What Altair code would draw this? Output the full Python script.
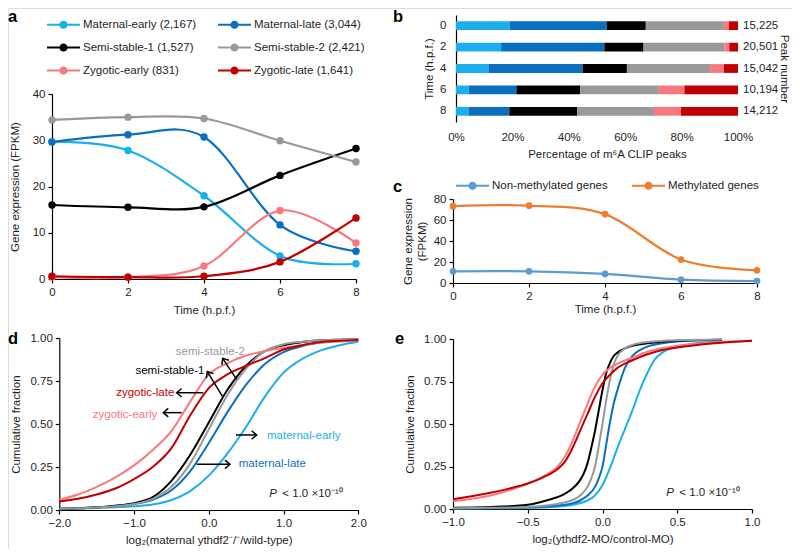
import math
import altair as alt
import pandas as pd

FONT = "Liberation Sans"
TXT = "#1e1e1e"
W, H = 784, 541

# ---------------- data ----------------
time_points = [0, 2, 4, 6, 8]
categories = ["Maternal-early", "Maternal-late", "Semi-stable-1",
              "Semi-stable-2", "Zygotic-early", "Zygotic-late"]
gene_counts = [2167, 3044, 1527, 2421, 831, 1641]
cat_colors = ["#1AAFEC", "#0A6FBF", "#000000", "#999999", "#F8797C", "#C00000"]

# panel a: gene expression (FPKM)
a_maternal_early = [29.7, 27.8, 18.0, 5.0, 3.3]
a_maternal_late = [29.6, 31.2, 30.7, 11.7, 6.0]
a_semi_stable_1 = [16.0, 15.5, 15.6, 22.4, 28.2]
a_semi_stable_2 = [34.4, 35.0, 34.7, 29.9, 25.3]
a_zygotic_early = [0.4, 0.4, 2.8, 14.8, 7.8]
a_zygotic_late = [0.6, 0.4, 0.6, 3.7, 13.2]

# panel b: percentage of m6A CLIP peaks
peak_times = ["0", "2", "4", "6", "8"]
peak_numbers = [15225, 20501, 15042, 10194, 14212]
b_maternal_early = [19.1, 16.0, 11.5, 4.5, 4.5]
b_maternal_late = [34.3, 36.6, 33.4, 16.9, 14.4]
b_semi_stable_1 = [13.9, 13.9, 15.7, 22.6, 24.1]
b_semi_stable_2 = [27.7, 28.7, 29.5, 27.9, 27.2]
b_zygotic_early = [1.8, 1.7, 4.9, 9.1, 9.6]
b_zygotic_late = [3.2, 3.1, 5.0, 19.0, 20.2]

# panel c
c_groups = ["Non-methylated genes", "Methylated genes"]
c_keys = ["non-methylated", "methylated"]
c_colors = ["#5B9BD5", "#ED7D31"]
c_nonmethylated = [11.1, 11.1, 8.6, 3.2, 1.9]
c_methylated = [73.2, 73.6, 65.6, 22.3, 12.1]

# panel d: cumulative fraction vs log2(maternal ythdf2-/-/wild-type)
d_x = [-2.0, -1.75, -1.5, -1.25, -1.0, -0.75, -0.5, -0.25, 0.0,
       0.25, 0.5, 0.75, 1.0, 1.25, 1.5, 1.75, 2.0]
d_maternal_early = [0.005, 0.008, 0.012, 0.016, 0.022, 0.032, 0.058, 0.11, 0.20,
                    0.33, 0.485, 0.66, 0.80, 0.88, 0.93, 0.96, 0.98]
d_maternal_late = [0.008, 0.010, 0.015, 0.022, 0.035, 0.06, 0.115, 0.225, 0.39,
                   0.57, 0.73, 0.85, 0.92, 0.955, 0.975, 0.985, 0.99]
d_semi_stable_1 = [0.008, 0.010, 0.016, 0.025, 0.04, 0.075, 0.17, 0.32, 0.51,
                   0.70, 0.84, 0.925, 0.96, 0.978, 0.988, 0.992, 0.995]
d_semi_stable_2 = [0.008, 0.010, 0.015, 0.022, 0.035, 0.065, 0.135, 0.27, 0.47,
                   0.67, 0.825, 0.925, 0.965, 0.98, 0.988, 0.992, 0.995]
d_zygotic_early = [0.06, 0.09, 0.135, 0.19, 0.26, 0.35, 0.46, 0.63, 0.79,
                   0.855, 0.90, 0.925, 0.945, 0.96, 0.975, 0.982, 0.988]
d_zygotic_late = [0.05, 0.065, 0.09, 0.125, 0.18, 0.25, 0.36, 0.55, 0.71,
                  0.79, 0.84, 0.885, 0.935, 0.96, 0.978, 0.985, 0.99]

# panel e: cumulative fraction vs log2(ythdf2-MO/control-MO)
e_x_maternal_early = [-1, -0.75, -0.5, -0.25, -0.1, -0.05, 0, 0.05, 0.1, 0.15, 0.2,
                      0.25, 0.3, 0.35, 0.4, 0.5, 0.6, 0.8]
e_maternal_early = [0.003, 0.004, 0.006, 0.018, 0.05, 0.08, 0.14, 0.24, 0.36, 0.47, 0.58,
                    0.70, 0.80, 0.88, 0.92, 0.955, 0.972, 0.99]
e_x_maternal_late = [-1, -0.75, -0.5, -0.25, -0.15, -0.1, -0.05, -0.025, 0, 0.025, 0.05,
                     0.075, 0.1, 0.125, 0.15, 0.2, 0.25, 0.3, 0.4, 0.5, 0.8]
e_maternal_late = [0.004, 0.006, 0.01, 0.025, 0.05, 0.08, 0.13, 0.18, 0.25, 0.38, 0.51,
                   0.62, 0.70, 0.77, 0.83, 0.90, 0.935, 0.955, 0.975, 0.985, 0.995]
e_x_semi_stable_1 = [-1, -0.75, -0.5, -0.375, -0.25, -0.2, -0.15, -0.125, -0.1, -0.075, -0.05,
                     -0.025, 0, 0.025, 0.05, 0.075, 0.1, 0.15, 0.2, 0.3, 0.5, 0.8]
e_semi_stable_1 = [0.008, 0.012, 0.025, 0.05, 0.09, 0.12, 0.17, 0.21, 0.27, 0.36, 0.46,
                   0.58, 0.70, 0.80, 0.86, 0.90, 0.92, 0.945, 0.96, 0.975, 0.99, 0.995]
e_x_semi_stable_2 = [-1, -0.75, -0.5, -0.25, -0.15, -0.1, -0.075, -0.05, -0.025, 0, 0.025,
                     0.05, 0.075, 0.1, 0.15, 0.2, 0.3, 0.5, 0.8]
e_semi_stable_2 = [0.005, 0.007, 0.012, 0.04, 0.08, 0.13, 0.18, 0.25, 0.37, 0.50, 0.64,
                   0.76, 0.85, 0.90, 0.945, 0.965, 0.982, 0.993, 0.997]
e_x_zygotic_early = [-1, -0.875, -0.75, -0.625, -0.5, -0.4, -0.3, -0.25, -0.2, -0.15, -0.1,
                     -0.05, 0, 0.05, 0.1, 0.2, 0.3, 0.5, 0.75, 1.0]
e_zygotic_early = [0.045, 0.06, 0.08, 0.11, 0.15, 0.19, 0.25, 0.31, 0.40, 0.51, 0.62,
                   0.72, 0.79, 0.83, 0.855, 0.89, 0.925, 0.96, 0.98, 0.99]
e_x_zygotic_late = [-1, -0.875, -0.75, -0.625, -0.5, -0.4, -0.3, -0.25, -0.2, -0.15, -0.1,
                    -0.05, 0, 0.05, 0.1, 0.2, 0.3, 0.4, 0.5, 0.75, 1.0]
e_zygotic_late = [0.058, 0.075, 0.095, 0.12, 0.15, 0.185, 0.235, 0.28, 0.36, 0.46, 0.56,
                  0.66, 0.74, 0.79, 0.83, 0.875, 0.91, 0.935, 0.95, 0.975, 0.99]

# panel d annotations (data coordinates)
d_label_text = ["semi-stable-2", "semi-stable-1", "zygotic-late",
                "zygotic-early", "maternal-early", "maternal-late"]
d_label_cat = ["Semi-stable-2", "Semi-stable-1", "Zygotic-late",
               "Zygotic-early", "Maternal-early", "Maternal-late"]
d_label_x = [0.02, -0.52, -0.85, -1.12, 1.27, 0.85]
d_label_v = [0.92, 0.81, 0.683, 0.553, 0.433, 0.268]
arrow_tail_x = [0.372, 0.185, -0.074, -0.363, 0.363, -0.163]
arrow_tail_v = [0.761, 0.66, 0.683, 0.567, 0.437, 0.266]
arrow_head_x = [0.185, -0.02, -0.43, -0.609, 0.64, 0.283]
arrow_head_v = [0.883, 0.806, 0.683, 0.567, 0.437, 0.266]
p_text_d = (0.81, 0.093)
p_text_e = (0.427, 0.094)

# ---------------- layout (chart pixel coordinates) ----------------
A_X, A_Y = [44, 348], [271, 86]
B_X, B_Y = [448, 730], [7, 114]
C_X, C_Y = [445, 749], [275, 191]
D_X, D_Y = [51.3, 350.3], [502, 330.3]
E_X, E_Y = [445, 744], [501, 331]

LEG_SYM = ("M-2.75,-0.18L2.75,-0.18L2.75,0.18L-2.75,0.18Z "
           "M0.68,0A0.68,0.68 0 1,1 -0.68,0A0.68,0.68 0 1,1 0.68,0Z")
CHEVRON = "M-1,-0.85L0,0L-1,0.85"


def axis(**kw):
    base = dict(grid=False, domainColor="#000000", domainWidth=1.2, tickColor="#000000",
                tickWidth=1.2, tickSize=4, labelFont=FONT, labelFontSize=11.5,
                labelColor=TXT, labelPadding=3, labelFlush=False, labelOverlap=False,
                titleFont=FONT, titleFontSize=11.5, titleColor=TXT, titleFontWeight="normal")
    base.update(kw)
    return alt.Axis(**base)


def legend(x, y, colpad):
    return alt.Legend(orient="none", legendX=x, legendY=y, columns=2, direction="horizontal",
                      title=None, symbolType=LEG_SYM, symbolSize=144, symbolStrokeWidth=0,
                      symbolOpacity=1, labelFont=FONT, labelFontSize=11.5, labelColor=TXT,
                      labelOffset=13.5, columnPadding=colpad, rowPadding=11, padding=0)


# ---------------- panel a ----------------
a_labels = [f"{c} ({n:,})" for c, n in zip(categories, gene_counts)]
a_series = [a_maternal_early, a_maternal_late, a_semi_stable_1,
            a_semi_stable_2, a_zygotic_early, a_zygotic_late]
df_a = pd.DataFrame([{"t": t, "cat": c, "series": lab, "v": v}
                     for c, lab, vals in zip(categories, a_labels, a_series)
                     for t, v in zip(time_points, vals)])
xa = alt.X("t:Q", scale=alt.Scale(domain=[0, 8], range=A_X, nice=False, zero=False),
           axis=axis(orient="bottom", offset=A_Y[0] - H, values=time_points,
                     title="Time (h.p.f.)", titlePadding=7))
ya = alt.Y("v:Q", scale=alt.Scale(domain=[0, 40], range=A_Y, nice=False),
           axis=axis(orient="left", offset=-A_X[0], values=[0, 10, 20, 30, 40],
                     title="Gene expression (FPKM)", titlePadding=12))
lines_a = alt.Chart(df_a).mark_line(interpolate="cardinal", strokeWidth=2.2).encode(
    x=xa, y=ya,
    stroke=alt.Stroke("cat:N", scale=alt.Scale(domain=categories, range=cat_colors), legend=None))
pts_a = alt.Chart(df_a).mark_point(filled=True, size=55, opacity=1).encode(
    x=xa, y=ya,
    color=alt.Color("series:N", scale=alt.Scale(domain=a_labels, range=cat_colors),
                    legend=legend(49.5, 10.5, 21)))
panel_a = alt.layer(lines_a, pts_a)

# ---------------- panel b ----------------
b_series = [b_maternal_early, b_maternal_late, b_semi_stable_1,
            b_semi_stable_2, b_zygotic_early, b_zygotic_late]
df_b = pd.DataFrame([{"time": t, "cat": c, "pct": v, "ord": k}
                     for k, (c, vals) in enumerate(zip(categories, b_series))
                     for t, v in zip(peak_times, vals)])
xb_scale = alt.Scale(domain=[0, 100], range=B_X, nice=False, zero=True)
yb_scale = alt.Scale(domain=peak_times, range=B_Y, paddingInner=0.59, paddingOuter=0.295)
bars = alt.Chart(df_b).mark_bar(strokeWidth=0).encode(
    x=alt.X("pct:Q", stack="zero", scale=xb_scale,
            axis=axis(orient="bottom", offset=B_Y[1] - H, values=[0, 20, 40, 60, 80, 100],
                      labelExpr="datum.value + '%'", domain=False, ticks=False, tickSize=0,
                      labelPadding=9, title="Percentage of m⁶A CLIP peaks", titlePadding=6,
                      titleX=599)),
    y=alt.Y("time:N", scale=yb_scale, sort=peak_times,
            axis=axis(orient="left", offset=-B_X[0], ticks=False, tickSize=0, labelPadding=10,
                      labelAngle=0, title="Time (h.p.f.)", titlePadding=5)),
    color=alt.Color("cat:N", scale=alt.Scale(domain=categories, range=cat_colors), legend=None),
    order=alt.Order("ord:Q"),
)
df_bn = pd.DataFrame({"time": peak_times, "label": [f"{n:,}" for n in peak_numbers],
                      "end": [100] * len(peak_times)})
bn = alt.Chart(df_bn).mark_text(align="left", baseline="middle", dx=5, font=FONT,
                                fontSize=11.5, color=TXT).encode(
    x=alt.X("end:Q", scale=xb_scale),
    y=alt.Y("time:N", scale=yb_scale, sort=peak_times,
            axis=axis(orient="right", offset=-14, labels=False, ticks=False, domain=False,
                      title="Peak number", titlePadding=0)),
    text="label:N")
panel_b = alt.layer(bars, bn).resolve_axis(y="independent")

# ---------------- panel c ----------------
df_c = pd.DataFrame([{"t": t, "key": k, "group": g, "v": v}
                     for k, g, vals in zip(c_keys, c_groups, [c_nonmethylated, c_methylated])
                     for t, v in zip(time_points, vals)])
xc = alt.X("t:Q", scale=alt.Scale(domain=[0, 8], range=C_X, nice=False, zero=False),
           axis=axis(orient="bottom", offset=C_Y[0] - H, values=time_points,
                     title="Time (h.p.f.)", titlePadding=2))
yc = alt.Y("v:Q", scale=alt.Scale(domain=[0, 80], range=C_Y, nice=False),
           axis=axis(orient="left", offset=-C_X[0], values=[0, 20, 40, 60, 80],
                     title=["Gene expression", "(FPKM)"], titlePadding=6))
lines_c = alt.Chart(df_c).mark_line(interpolate="cardinal", strokeWidth=2.2).encode(
    x=xc, y=yc,
    stroke=alt.Stroke("key:N", scale=alt.Scale(domain=c_keys, range=c_colors), legend=None))
pts_c = alt.Chart(df_c).mark_point(filled=True, size=45, opacity=1).encode(
    x=xc, y=yc,
    color=alt.Color("group:N", scale=alt.Scale(domain=c_groups, range=c_colors),
                    legend=legend(458.5, 171.5, 23)))
panel_c = alt.layer(lines_c, pts_c)


# ---------------- panels d / e ----------------
def cdf_frame(xs_list, vs_list):
    rows = []
    for c, xs, vs in zip(categories, xs_list, vs_list):
        for x, v in zip(xs, vs):
            rows.append({"x": x, "v": v, "cat": c})
    return pd.DataFrame(rows)


d_series = [d_maternal_early, d_maternal_late, d_semi_stable_1,
            d_semi_stable_2, d_zygotic_early, d_zygotic_late]
df_d = cdf_frame([d_x] * 6, d_series)
e_xs = [e_x_maternal_early, e_x_maternal_late, e_x_semi_stable_1,
        e_x_semi_stable_2, e_x_zygotic_early, e_x_zygotic_late]
e_series = [e_maternal_early, e_maternal_late, e_semi_stable_1,
            e_semi_stable_2, e_zygotic_early, e_zygotic_late]
df_e = cdf_frame(e_xs, e_series)

cat_scale = alt.Scale(domain=categories, range=cat_colors)


def cdf_panel(df, XR, YR, xdom, xvals, xtitle):
    xs = alt.Scale(domain=xdom, range=XR, nice=False, zero=False)
    ys = alt.Scale(domain=[0, 1], range=YR, nice=False)
    lines = alt.Chart(df).mark_line(interpolate="monotone", strokeWidth=2).encode(
        x=alt.X("x:Q", scale=xs, axis=axis(orient="bottom", offset=YR[0] - H, values=xvals,
                                           format=".1f", title=xtitle, titlePadding=6)),
        y=alt.Y("v:Q", scale=ys, axis=axis(orient="left", offset=-XR[0],
                                           values=[0, 0.25, 0.5, 0.75, 1.0], format=".2f",
                                           title="Cumulative fraction", titlePadding=8)),
        color=alt.Color("cat:N", scale=cat_scale, legend=None),
        order=alt.Order("x:Q"),
    )
    return lines, xs, ys


lines_d, xs_d, ys_d = cdf_panel(df_d, D_X, D_Y, [-2, 2], [-2, -1, 0, 1, 2],
                                "log₂(maternal ythdf2⁻/⁻/wild-type)")
lines_e, xs_e, ys_e = cdf_panel(df_e, E_X, E_Y, [-1, 1], [-1, -0.5, 0, 0.5, 1],
                                "log₂(ythdf2-MO/control-MO)")

df_dl = pd.DataFrame({"text": d_label_text, "cat": d_label_cat, "x": d_label_x, "v": d_label_v})
labels_d = alt.Chart(df_dl).mark_text(font=FONT, fontSize=11.5, baseline="middle").encode(
    x=alt.X("x:Q", scale=xs_d), y=alt.Y("v:Q", scale=ys_d),
    color=alt.Color("cat:N", scale=cat_scale, legend=None), text="text:N")

sx = (D_X[1] - D_X[0]) / 4.0
sy = (D_Y[1] - D_Y[0]) / 1.0
angles = [math.degrees(math.atan2((hv - tv) * sy, (hx - tx) * sx)) % 360
          for tx, tv, hx, hv in zip(arrow_tail_x, arrow_tail_v, arrow_head_x, arrow_head_v)]
df_arr = pd.DataFrame({"tx": arrow_tail_x, "tv": arrow_tail_v, "hx": arrow_head_x,
                       "hv": arrow_head_v, "ang": angles})
shafts_d = alt.Chart(df_arr).mark_rule(color="black", strokeWidth=1.5).encode(
    x=alt.X("tx:Q", scale=xs_d), y=alt.Y("tv:Q", scale=ys_d),
    x2="hx:Q", y2="hv:Q")
heads_d = alt.Chart(df_arr).mark_point(shape=CHEVRON, filled=False, color="black",
                                       strokeWidth=1.5, size=100, opacity=1).encode(
    x=alt.X("hx:Q", scale=xs_d), y=alt.Y("hv:Q", scale=ys_d),
    angle=alt.Angle("ang:Q", scale=None))


def p_value(pos, xs, ys):
    df = pd.DataFrame({"x": [pos[0]], "v": [pos[1]]})
    base = alt.Chart(df)
    p = base.mark_text(text="P", fontStyle="italic", font=FONT, fontSize=11.5, color=TXT,
                       align="left", baseline="middle").encode(
        x=alt.X("x:Q", scale=xs), y=alt.Y("v:Q", scale=ys))
    rest = base.mark_text(text="< 1.0 ×10⁻¹⁰", font=FONT, fontSize=11.5, color=TXT,
                          align="left", baseline="middle", dx=13).encode(
        x=alt.X("x:Q", scale=xs), y=alt.Y("v:Q", scale=ys))
    return [p, rest]


panel_d = alt.layer(lines_d, labels_d, shafts_d, heads_d, *p_value(p_text_d, xs_d, ys_d))
panel_e = alt.layer(lines_e, *p_value(p_text_e, xs_e, ys_e))

# ---------------- panel letters ----------------
letter_text = ["a", "b", "c", "d", "e"]
letter_pos = [(0, 14), (385, 14), (385, 184), (0, 336), (387, 336)]
letters = [alt.Chart(alt.Data(values=[{}])).mark_text(
    text=t, font=FONT, fontSize=16.5, fontWeight="bold", color="#000000",
    align="left", baseline="alphabetic").encode(x=alt.value(px), y=alt.value(py))
    for t, (px, py) in zip(letter_text, letter_pos)]

chart = alt.layer(panel_a, panel_b, panel_c, panel_d, panel_e, *letters).resolve_scale(
    x="independent", y="independent", color="independent", stroke="independent"
).properties(
    width=W, height=H, autosize=alt.AutoSizeParams(type="none"), padding=0
).configure_view(strokeWidth=0).configure(font=FONT)

chart.save("out.html", embed_options={"renderer": "svg", "actions": False})
